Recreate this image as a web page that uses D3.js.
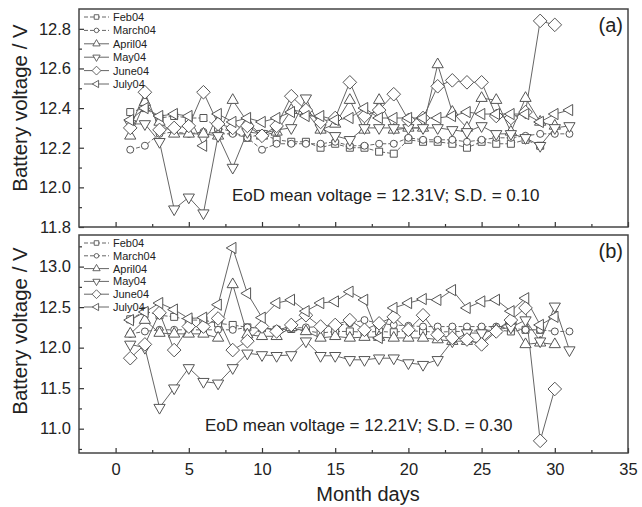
<!DOCTYPE html>
<html>
<head>
<meta charset="utf-8">
<script src="https://cdn.jsdelivr.net/npm/d3@7"></script>
<style>
  body { margin: 0; background: #fff; }
  svg { font-family: "Liberation Sans", Arial, sans-serif; }
</style>
</head>
<body>
<svg id="chart" width="642" height="507"></svg>
<script>
// month names for the legend
var months = ["Feb04", "March04", "April04", "May04", "June04", "July04"];

// panel (a) - one value per day, starting at day 1
var febA = [12.38, 12.40, 12.35, 12.36, 12.35, 12.35, 12.30, 12.28, 12.25, 12.27, 12.24, 12.23, 12.23, 12.20, 12.22,
            12.20, 12.20, 12.18, 12.17, 12.24, 12.23, 12.23, 12.22, 12.20, 12.23, 12.22, 12.22, 12.24, 12.21];
var marA = [12.19, 12.21, 12.27, 12.28, 12.27, 12.28, 12.27, 12.27, 12.25, 12.19, 12.22, 12.22, 12.22, 12.22, 12.23,
            12.21, 12.21, 12.22, 12.22, 12.25, 12.24, 12.24, 12.24, 12.23, 12.24, 12.25, 12.25, 12.26, 12.27, 12.27, 12.27];
var aprA = [12.26, 12.43, 12.33, 12.27, 12.27, 12.27, 12.26, 12.44, 12.33, 12.26, 12.28, 12.39, 12.38, 12.29, 12.32,
            12.44, 12.29, 12.44, 12.29, 12.30, 12.30, 12.62, 12.38, 12.30, 12.45, 12.44, 12.28, 12.45, 12.33, 12.31];
var mayA = [12.32, 12.32, 12.23, 11.89, 11.95, 11.87, 12.26, 12.10, 12.28, 12.27, 12.29, 12.30, 12.45, 12.30, 12.26,
            12.24, 12.30, 12.30, 12.30, 12.30, 12.30, 12.30, 12.29, 12.28, 12.31, 12.27, 12.27, 12.25, 12.21, 12.30, 12.31];
var junA = [12.30, 12.48, 12.29, 12.30, 12.31, 12.48, 12.32, 12.30, 12.31, 12.26, 12.31, 12.46, 12.39, 12.33, 12.35,
            12.53, 12.36, 12.39, 12.47, 12.34, 12.35, 12.51, 12.54, 12.53, 12.53, 12.36, 12.35, 12.38, 12.84, 12.82];
var julA = [12.34, 12.40, 12.36, 12.37, 12.36, 12.21, 12.37, 12.33, 12.35, 12.33, 12.35, 12.38, 12.36, 12.36, 12.34,
            12.35, 12.40, 12.35, 12.35, 12.35, 12.35, 12.35, 12.36, 12.38, 12.37, 12.37, 12.37, 12.37, 12.33, 12.37, 12.39];

// panel (b)
var febB = [12.35, 12.45, 12.40, 12.38, 12.34, 12.34, 12.30, 12.28, 12.25, 12.24, 12.22, 12.23, 12.21, 12.18, 12.20,
            12.20, 12.19, 12.20, 12.19, 12.21, 12.20, 12.19, 12.20, 12.20, 12.21, 12.22, 12.20, 12.22, 12.22];
var marB = [12.17, 12.20, 12.22, 12.22, 12.22, 12.22, 12.22, 12.22, 12.25, 12.24, 12.23, 12.24, 12.25, 12.26, 12.27,
            12.30, 12.34, 12.30, 12.28, 12.27, 12.26, 12.26, 12.26, 12.26, 12.26, 12.26, 12.24, 12.22, 12.22, 12.20, 12.20];
var aprB = [12.17, 12.34, 12.18, 12.17, 12.17, 12.17, 12.12, 12.78, 12.16, 12.14, 12.14, 12.25, 12.20, 12.12, 12.14,
            12.12, 12.13, 12.13, 12.12, 12.12, 12.12, 12.10, 12.08, 12.08, 12.06, 12.22, 12.34, 12.04, 12.06, 12.04];
var mayB = [12.04, 12.00, 11.26, 11.50, 11.75, 11.58, 11.56, 11.75, 11.93, 11.91, 11.90, 11.91, 12.08, 11.90, 11.90,
            11.85, 11.85, 11.87, 11.87, 11.81, 11.79, 11.85, 12.08, 12.18, 12.18, 12.22, 12.25, 12.34, 12.08, 12.51, 11.97];
var junB = [11.87, 12.04, 12.43, 11.97, 12.26, 12.26, 12.36, 11.97, 12.08, 12.26, 12.20, 12.28, 12.40, 12.26, 12.28,
            12.34, 12.22, 12.30, 12.38, 12.22, 12.40, 12.16, 12.12, 12.10, 12.04, 12.20, 12.34, 12.49, 10.85, 11.49];
var julB = [12.34, 12.44, 12.55, 12.47, 12.36, 12.37, 12.53, 13.23, 12.67, 12.37, 12.55, 12.59, 12.45, 12.55, 12.57,
            12.69, 12.59, 12.12, 12.49, 12.55, 12.60, 12.59, 12.71, 12.49, 12.57, 12.59, 12.45, 12.61, 12.28, 12.38];

// axis ticks
var xTicks = [0, 5, 10, 15, 20, 25, 30, 35];
var xMinor = [2.5, 7.5, 12.5, 17.5, 22.5, 27.5, 32.5];
var yTicksA = [11.8, 12.0, 12.2, 12.4, 12.6, 12.8];
var yMinorA = [11.9, 12.1, 12.3, 12.5, 12.7];
var yTicksB = [11.0, 11.5, 12.0, 12.5, 13.0];
var yMinorB = [10.75, 11.25, 11.75, 12.25, 12.75, 13.25];

var svg = d3.select("#chart");
var left = 79, right = 628;
var x = d3.scaleLinear().domain([-2.5, 35]).range([left, right]);

var ink = "#555";
var lineInk = "#666";

// marker shapes
function marker(kind, s) {
  var p = d3.path();
  if (kind == "square") {
    p.rect(-s * 0.5, -s * 0.5, s, s);
  } else if (kind == "circle") {
    p.arc(0, 0, s * 0.5, 0, 2 * Math.PI);
  } else if (kind == "diamond") {
    var r = s * 0.68;
    p.moveTo(0, -r); p.lineTo(r, 0); p.lineTo(0, r); p.lineTo(-r, 0); p.closePath();
  } else {
    var r = s * 0.72, h = r * 0.5, w = r * 0.866;
    var pts;
    if (kind == "up") pts = [[0, -r], [w, h], [-w, h]];
    if (kind == "down") pts = [[0, r], [w, -h], [-w, -h]];
    if (kind == "left") pts = [[-r, 0], [h, -w], [h, w]];
    p.moveTo(pts[0][0], pts[0][1]); p.lineTo(pts[1][0], pts[1][1]); p.lineTo(pts[2][0], pts[2][1]); p.closePath();
  }
  return p.toString();
}

var shapes = ["square", "circle", "up", "down", "diamond", "left"];
var sizes = [7, 7, 9, 9, 10, 9];
var dashes = ["4,2", "4,2", null, null, null, null];

function drawPanel(top, bottom, yDomain, yTicks, yMinor, series, showX, tag, note, noteX, noteY, titleY, legY, legStep) {
  var y = d3.scaleLinear().domain(yDomain).range([bottom, top]);
  var g = svg.append("g");

  // series: lines first then markers
  series.forEach(function(vals, i) {
    var pts = vals.map(function(v, k) { return [k + 1, v]; });
    var line = d3.line().x(function(d) { return x(d[0]); }).y(function(d) { return y(d[1]); });
    g.append("path")
      .attr("d", line(pts))
      .attr("fill", "none")
      .attr("stroke", lineInk)
      .attr("stroke-width", 1)
      .attr("stroke-dasharray", dashes[i]);
  });
  series.forEach(function(vals, i) {
    g.selectAll(".m" + i)
      .data(vals)
      .enter().append("path")
      .attr("class", "m" + i)
      .attr("transform", function(d, k) { return "translate(" + x(k + 1) + "," + y(d) + ")"; })
      .attr("d", marker(shapes[i], sizes[i]))
      .attr("fill", "#fff")
      .attr("stroke", ink)
      .attr("stroke-width", 1);
  });

  // axes, ticks pointing inward
  g.append("g")
    .attr("transform", "translate(" + left + ",0)")
    .call(d3.axisLeft(y).tickValues(yTicks).tickSize(-5).tickPadding(8).tickFormat(d3.format(".1f")));
  g.append("g")
    .attr("transform", "translate(" + left + ",0)")
    .call(d3.axisLeft(y).tickValues(yMinor).tickSize(-3).tickFormat(""));
  g.append("g")
    .attr("transform", "translate(0," + bottom + ")")
    .call(d3.axisBottom(x).tickValues(xTicks).tickSize(-5).tickPadding(10).tickFormat(showX ? d3.format("d") : ""));
  g.append("g")
    .attr("transform", "translate(0," + bottom + ")")
    .call(d3.axisBottom(x).tickValues(xMinor).tickSize(-3).tickFormat(""));
  g.selectAll(".domain").remove();
  g.selectAll(".tick line").attr("stroke", "#333").attr("stroke-width", 1.2);
  g.selectAll(".tick text").attr("font-size", 16.5).attr("fill", "#222")
    .attr("font-family", "'Liberation Sans', Arial, sans-serif");

  // frame
  g.append("rect")
    .attr("x", left).attr("y", top)
    .attr("width", right - left).attr("height", bottom - top)
    .attr("fill", "none").attr("stroke", "#444").attr("stroke-width", 1.5);

  // legend
  var leg = g.append("g");
  months.forEach(function(m, i) {
    var ly = legY + i * legStep;
    leg.append("line")
      .attr("x1", 84).attr("x2", 109).attr("y1", ly).attr("y2", ly)
      .attr("stroke", lineInk).attr("stroke-width", 1)
      .attr("stroke-dasharray", dashes[i]);
    leg.append("path")
      .attr("transform", "translate(96.5," + ly + ")")
      .attr("d", marker(shapes[i], sizes[i] * 0.65))
      .attr("fill", "#fff").attr("stroke", ink).attr("stroke-width", 0.9);
    leg.append("text")
      .attr("x", 113).attr("y", ly + 4)
      .attr("font-size", 11).attr("fill", "#222")
      .text(m);
  });

  g.append("text")
    .attr("x", 623).attr("y", top + 23)
    .attr("text-anchor", "end")
    .attr("font-size", 20).attr("fill", "#222")
    .text(tag);

  g.append("text")
    .attr("x", noteX).attr("y", noteY)
    .attr("font-size", 17).attr("fill", "#222")
    .text(note);

  g.append("text")
    .attr("transform", "translate(27," + titleY + ") rotate(-90)")
    .attr("text-anchor", "middle")
    .attr("font-size", 20.5).attr("fill", "#222")
    .text("Battery voltage / V");
}

drawPanel(9, 227, [11.8, 12.9], yTicksA, yMinorA, [febA, marA, aprA, mayA, junA, julA], false,
  "(a)", "EoD mean voltage = 12.31V; S.D. = 0.10", 232, 201, 108, 17, 13.4);
drawPanel(235, 453, [10.7, 13.39], yTicksB, yMinorB, [febB, marB, aprB, mayB, junB, julB], true,
  "(b)", "EoD mean voltage = 12.21V; S.D. = 0.30", 205, 431, 331, 243, 12.8);

svg.append("text")
  .attr("x", 368).attr("y", 501)
  .attr("text-anchor", "middle")
  .attr("font-size", 20).attr("fill", "#222")
  .text("Month days");
</script>
</body>
</html>
